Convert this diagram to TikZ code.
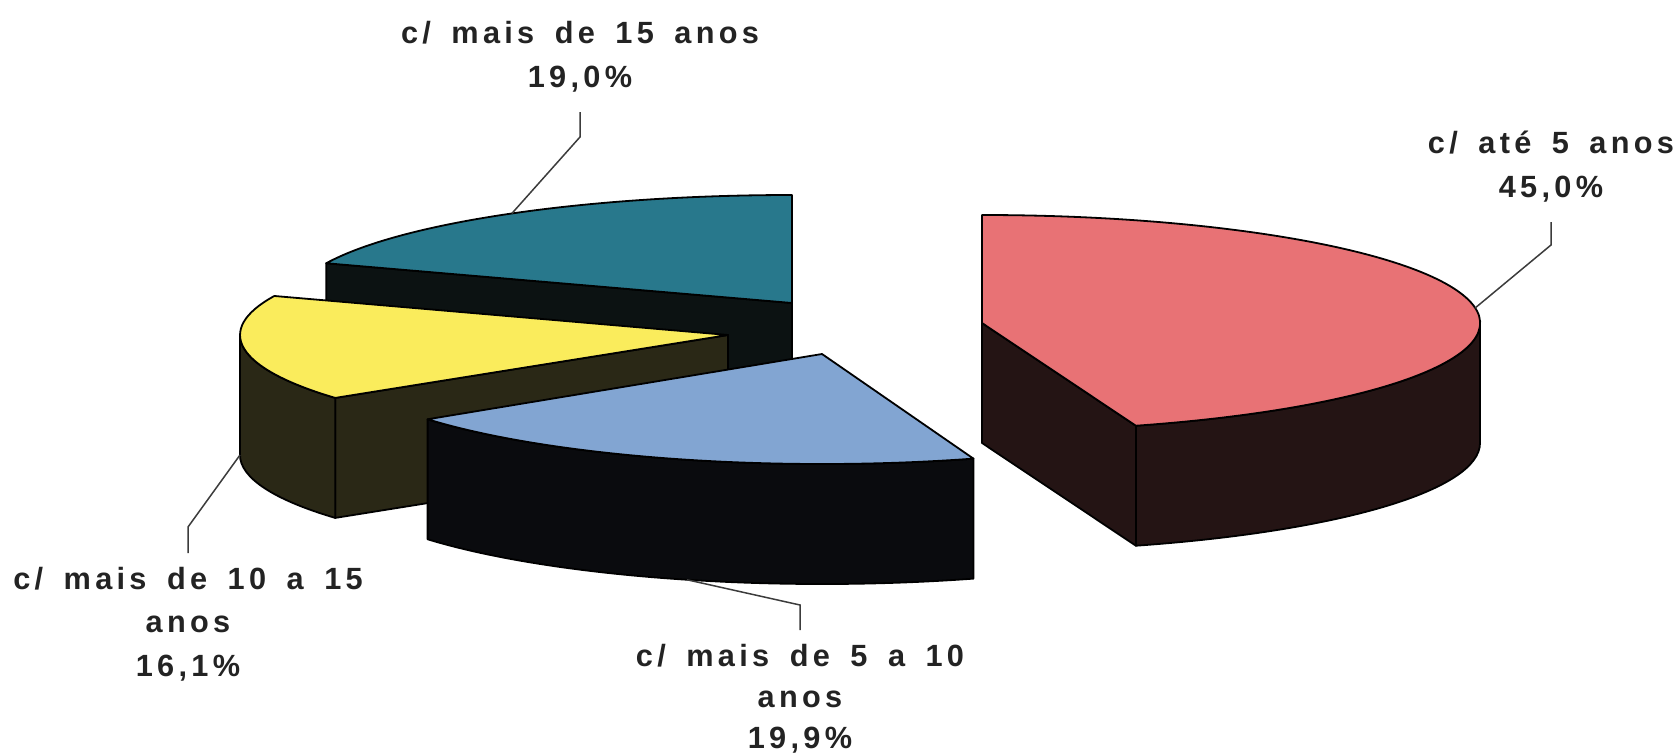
\documentclass[tikz,border=0pt]{standalone}
\usepackage{fontspec}
\newfontfamily\lblfont[LetterSpace=14,WordSpace=1.6]{Liberation Sans}
\usetikzlibrary{calc}

\definecolor{tealtop}{RGB}{40,120,140}
\definecolor{tealside}{RGB}{12,18,18}
\definecolor{yeltop}{RGB}{250,236,92}
\definecolor{yelside}{RGB}{42,40,22}
\definecolor{bluetop}{RGB}{130,165,210}
\definecolor{blueside}{RGB}{10,11,14}
\definecolor{redtop}{RGB}{232,114,117}
\definecolor{redside}{RGB}{36,20,20}
\definecolor{txtgray}{RGB}{35,35,35}
\definecolor{linegray}{RGB}{60,60,60}

\tikzset{
  face/.style={draw=black,line width=0.9pt,line join=round},
  lbl/.style={font=\lblfont\bfseries\fontsize{15.35}{#1}\selectfont,text=txtgray,align=center,inner sep=0pt},
  lbl/.default=21.75,
  leader/.style={draw=linegray,line width=0.75pt}
}

\begin{document}
\begin{tikzpicture}[x=0.5pt,y=-0.5pt]
  \useasboundingbox (0,0) rectangle (1675,755);
  % centres of the slices
  \coordinate (cTeal) at (792,303);
  \coordinate (cYel) at (728,335);
  \coordinate (cBlue) at (822,354);
  \coordinate (cRed) at (982,323);
  % c/ mais de 15 anos
  \filldraw[face,fill=tealside] (cTeal) -- ++(-158.4:501 and 108) -- ++(0,120) -- ($(cTeal)+(0,120)$) -- cycle;
  \filldraw[face,fill=tealtop] (cTeal) -- ++(-90:501 and 108) arc[start angle=-90,end angle=-158.4,x radius=501,y radius=108] -- cycle;
  % c/ mais de 10 a 15 anos
  \filldraw[face,fill=yelside] (cYel) -- ++(-216.4:488 and 106) -- ++(0,120) -- ($(cYel)+(0,120)$) -- cycle;
  \filldraw[face,fill=yelside] ($(cYel)+(-180:488 and 106)$) arc[start angle=-180,end angle=-216.4,x radius=488,y radius=106]
    -- ++(0,120) arc[start angle=-216.4,end angle=-180,x radius=488,y radius=106] -- cycle;
  \filldraw[face,fill=yeltop] (cYel) -- ++(-158.4:488 and 106) arc[start angle=-158.4,end angle=-216.4,x radius=488,y radius=106] -- cycle;
  % c/ mais de 5 a 10 anos
  \filldraw[face,fill=blueside] ($(cBlue)+(143.6:490 and 110)$) arc[start angle=143.6,end angle=72,x radius=490,y radius=110]
    -- ++(0,120) arc[start angle=72,end angle=143.6,x radius=490,y radius=110] -- cycle;
  \filldraw[face,fill=bluetop] (cBlue) -- ++(143.6:490 and 110) arc[start angle=143.6,end angle=72,x radius=490,y radius=110] -- cycle;
  % c/ ate 5 anos
  \filldraw[face,fill=redside] (cRed) -- ++(72:498 and 108) -- ++(0,120) -- ($(cRed)+(0,120)$) -- cycle;
  \filldraw[face,fill=redside] ($(cRed)+(72:498 and 108)$) arc[start angle=72,end angle=0,x radius=498,y radius=108]
    -- ++(0,120) arc[start angle=0,end angle=72,x radius=498,y radius=108] -- cycle;
  \filldraw[face,fill=redtop] (cRed) -- ++(72:498 and 108) arc[start angle=72,end angle=-90,x radius=498,y radius=108] -- cycle;

  % labels
  \coordinate (pTeal) at ($(cTeal)+(-124:501 and 108)$);
  \coordinate (pYel) at ($(cYel)+(-180:488 and 106)+(0,120)$);
  \coordinate (pBlue) at ($(cBlue)+(106:490 and 110)+(0,120)$);
  \coordinate (pRed) at ($(cRed)+(-8:498 and 108)$);
  \node[lbl,anchor=south,outer sep=10pt] (lTeal) at (580,112) {c/ mais de 15 anos\\19,0\%};
  \node[lbl,anchor=north,outer sep=7pt] (lYel) at (188,553) {c/ mais de 10 a 15\\anos\\16,1\%};
  \node[lbl=20.5,anchor=north,outer sep=7pt] (lBlue) at (800,630) {c/ mais de 5 a 10\\anos\\19,9\%};
  \node[lbl,anchor=south,outer sep=10pt] (lRed) at (1551,222) {c/ até 5 anos\\45,0\%};
  \draw[leader] (lTeal.south) -- ++(0,25) -- (pTeal);
  \draw[leader] (lYel.north) -- ++(0,-26) -- (pYel);
  \draw[leader] (lBlue.north) -- ++(0,-25) -- (pBlue);
  \draw[leader] (lRed.south) -- ++(0,23) -- (pRed);
\end{tikzpicture}
\end{document}
